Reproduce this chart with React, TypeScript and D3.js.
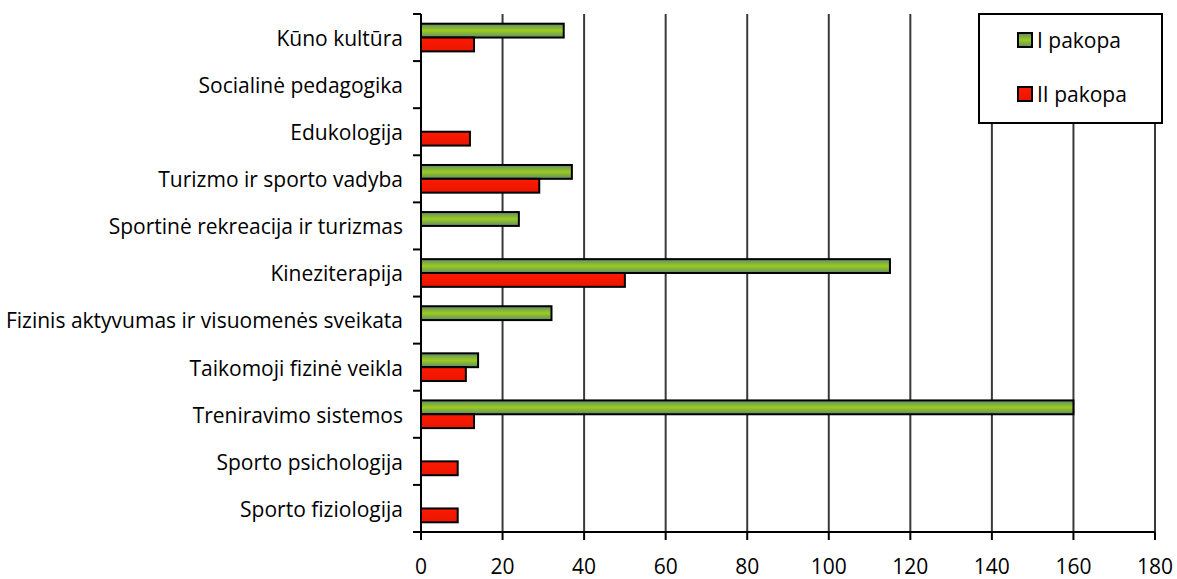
import React, { useEffect, useRef } from "react";
import * as d3 from "d3";

const categories = [
  "Kūno kultūra",
  "Socialinė pedagogika",
  "Edukologija",
  "Turizmo ir sporto vadyba",
  "Sportinė rekreacija ir turizmas",
  "Kineziterapija",
  "Fizinis aktyvumas ir visuomenės sveikata",
  "Taikomoji fizinė veikla",
  "Treniravimo sistemos",
  "Sporto psichologija",
  "Sporto fiziologija",
];
const pakopaI = [35, 0, 0, 37, 24, 115, 32, 14, 160, 0, 0];
const pakopaII = [13, 0, 12, 29, 0, 50, 0, 11, 13, 9, 9];
const seriesNames = ["I pakopa", "II pakopa"];
const xTicks = [0, 20, 40, 60, 80, 100, 120, 140, 160, 180];

const W = 1177;
const H = 579;
const FONT = "'Open Sans', sans-serif";
const FS = 21;

export default function App() {
  const ref = useRef<SVGSVGElement>(null);

  useEffect(() => {
    const svg = d3.select(ref.current);
    svg.selectAll("*").remove();

    const left = 421;
    const right = 1155;
    const top = 14;
    const bottom = 532;

    const defs = svg.append("defs");
    const g1 = defs
      .append("linearGradient")
      .attr("id", "greenGrad")
      .attr("x1", 0)
      .attr("y1", 0)
      .attr("x2", 0)
      .attr("y2", 1);
    g1.append("stop").attr("offset", "0%").attr("stop-color", "#5f8a6e");
    g1.append("stop").attr("offset", "50%").attr("stop-color", "#9ccc1c");
    g1.append("stop").attr("offset", "100%").attr("stop-color", "#5f8a6e");
    const g2 = defs
      .append("linearGradient")
      .attr("id", "redGrad")
      .attr("x1", 0)
      .attr("y1", 0)
      .attr("x2", 0)
      .attr("y2", 1);
    g2.append("stop").attr("offset", "0%").attr("stop-color", "#ff1a00");
    g2.append("stop").attr("offset", "100%").attr("stop-color", "#e81500");

    const x = d3.scaleLinear().domain([0, 180]).range([left, right]);
    const y = d3.scaleBand().domain(categories).range([top, bottom]).padding(0);
    const inner = d3
      .scaleBand()
      .domain(seriesNames)
      .range([0, y.bandwidth()])
      .paddingInner(0)
      .paddingOuter(0.7);

    // gridlines
    svg
      .append("g")
      .selectAll("line")
      .data(xTicks.slice(1))
      .enter()
      .append("line")
      .attr("x1", (d) => x(d))
      .attr("x2", (d) => x(d))
      .attr("y1", top)
      .attr("y2", bottom)
      .attr("stroke", "#3a3a3a")
      .attr("stroke-width", 2);

    // bars
    const rows = categories.map((c, i) => ({ c, vals: [pakopaI[i], pakopaII[i]] }));
    const fills = ["url(#greenGrad)", "url(#redGrad)"];
    rows.forEach((r) => {
      r.vals.forEach((v, j) => {
        if (!v) return;
        svg
          .append("rect")
          .attr("x", x(0))
          .attr("y", (y(r.c) as number) + (inner(seriesNames[j]) as number))
          .attr("width", x(v) - x(0))
          .attr("height", inner.bandwidth())
          .attr("fill", fills[j])
          .attr("stroke", "#000")
          .attr("stroke-width", 2);
      });
    });

    // y axis
    const yAxis = svg.append("g");
    yAxis
      .append("line")
      .attr("x1", left)
      .attr("x2", left)
      .attr("y1", top)
      .attr("y2", bottom)
      .attr("stroke", "#000")
      .attr("stroke-width", 2);
    const bounds = categories.map((c) => y(c) as number).concat([bottom]);
    yAxis
      .selectAll("line.tick")
      .data(bounds)
      .enter()
      .append("line")
      .attr("class", "tick")
      .attr("x1", left - 8)
      .attr("x2", left)
      .attr("y1", (d) => d)
      .attr("y2", (d) => d)
      .attr("stroke", "#000")
      .attr("stroke-width", 2);
    yAxis
      .selectAll("text")
      .data(categories)
      .enter()
      .append("text")
      .attr("x", 403)
      .attr("y", (d) => (y(d) as number) + y.bandwidth() / 2 + 1)
      .attr("dy", "0.35em")
      .attr("text-anchor", "end")
      .attr("font-family", FONT)
      .attr("font-size", FS)
      .attr("fill", "#000")
      .text((d) => d);

    // x axis
    const xAxis = svg.append("g");
    xAxis
      .append("line")
      .attr("x1", left - 8)
      .attr("x2", right)
      .attr("y1", bottom)
      .attr("y2", bottom)
      .attr("stroke", "#000")
      .attr("stroke-width", 2);
    xAxis
      .selectAll("line.tick")
      .data(xTicks)
      .enter()
      .append("line")
      .attr("class", "tick")
      .attr("x1", (d) => x(d))
      .attr("x2", (d) => x(d))
      .attr("y1", bottom)
      .attr("y2", bottom + 8)
      .attr("stroke", "#000")
      .attr("stroke-width", 2);
    xAxis
      .selectAll("text")
      .data(xTicks)
      .enter()
      .append("text")
      .attr("x", (d) => x(d))
      .attr("y", 567)
      .attr("dy", "0.35em")
      .attr("text-anchor", "middle")
      .attr("font-family", FONT)
      .attr("font-size", FS)
      .attr("fill", "#000")
      .text((d) => d);

    // legend
    const lg = svg.append("g");
    lg.append("rect")
      .attr("x", 979)
      .attr("y", 14)
      .attr("width", 183)
      .attr("height", 109)
      .attr("fill", "#fff")
      .attr("stroke", "#000")
      .attr("stroke-width", 2);
    seriesNames.forEach((s, i) => {
      const cy = 40 + i * 54;
      lg.append("rect")
        .attr("x", 1018)
        .attr("y", cy - 7)
        .attr("width", 14)
        .attr("height", 14)
        .attr("fill", fills[i])
        .attr("stroke", "#000")
        .attr("stroke-width", 2);
      lg.append("text")
        .attr("x", 1037)
        .attr("y", cy + 1)
        .attr("dy", "0.35em")
        .attr("font-family", FONT)
        .attr("font-size", FS)
        .attr("fill", "#000")
        .text(s);
    });
  }, []);

  return (
    <div style={{ position: "absolute", left: 0, top: 0 }}>
      <svg ref={ref} width={W} height={H} style={{ display: "block", background: "#fff" }} />
    </div>
  );
}
